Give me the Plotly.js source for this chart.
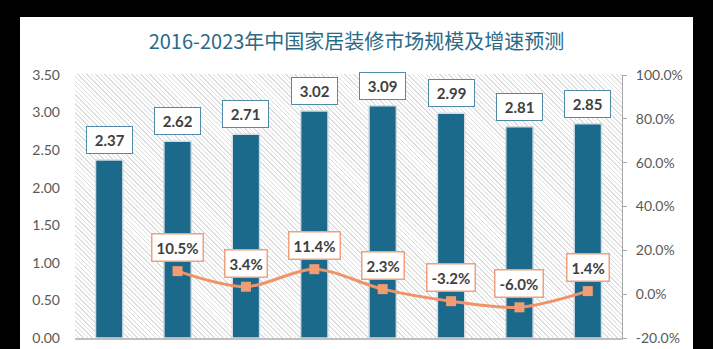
<!DOCTYPE html>
<html>
<head>
<meta charset="utf-8">
<script src="https://cdn.plot.ly/plotly-3.0.1.min.js"></script>
<style>
  html, body { margin:0; padding:0; background:#000; width:713px; height:349px; overflow:hidden; }
  #frame { position:absolute; left:20px; top:17px; width:673px; height:340px; background:#fff; }
  #hatch { position:absolute; left:75px; top:74px; width:547px; height:264px;
    background: repeating-linear-gradient(45deg, #ffffff 0px, #ffffff 2.2px, #dedede 2.2px, #dedede 3.2px); }
  #chart { position:absolute; left:0; top:0; width:713px; height:349px; }
</style>
</head>
<body>
<div id="frame"></div>
<div id="hatch"></div>
<div id="chart"></div>
<script>
// Data
const years = [2016, 2017, 2018, 2019, 2020, 2021, 2022, 2023];
const marketSize = [2.37, 2.62, 2.71, 3.02, 3.09, 2.99, 2.81, 2.85];
const growthYears = [2017, 2018, 2019, 2020, 2021, 2022, 2023];
const growthRate = [10.5, 3.4, 11.4, 2.3, -3.2, -6.0, 1.4];
const leftTicks = [0, 0.5, 1, 1.5, 2, 2.5, 3, 3.5];
const rightTicks = [-20, 0, 20, 40, 60, 80, 100];
const titleText = '2016-2023年中国家居装修市场规模及增速预测';

const barColor = '#1b6a8c';
const lineColor = '#ef9468';
const tickFont = {family: 'Lato, "Liberation Sans", sans-serif', size: 14, color: '#595959'};
const labelFont = {family: 'Lato, "Liberation Sans", sans-serif', size: 15, color: '#404040'};

const traces = [
  {
    type: 'bar', x: years, y: marketSize, width: 0.4,
    marker: {color: barColor, line: {color: '#d5dde2', width: 1.5}},
    hoverinfo: 'skip'
  },
  {
    type: 'scatter', mode: 'lines+markers', x: growthYears, y: growthRate, yaxis: 'y2',
    line: {color: lineColor, width: 3, shape: 'spline', smoothing: 0.9},
    marker: {symbol: 'square', size: 10, color: '#f29c74'},
    hoverinfo: 'skip'
  }
];

const annotations = [];
marketSize.forEach((v, i) => {
  annotations.push({
    x: years[i], y: v, xref: 'x', yref: 'y', yanchor: 'bottom', yshift: 6,
    text: '&nbsp;<b>' + v.toFixed(2) + '</b>&nbsp;', showarrow: false,
    bgcolor: '#ffffff', bordercolor: '#4f8aa6', borderwidth: 1, borderpad: 4,
    font: labelFont
  });
});
growthRate.forEach((v, i) => {
  annotations.push({
    x: growthYears[i], y: v, xref: 'x', yref: 'y2', yanchor: 'bottom', yshift: 9,
    text: '<b>' + v.toFixed(1) + '%</b>', showarrow: false,
    bgcolor: '#ffffff', bordercolor: '#efa07c', borderwidth: 1.5, borderpad: 4,
    font: labelFont
  });
});

const layout = {
  width: 713, height: 349,
  margin: {l: 75, r: 91, t: 75, b: 11, pad: 0},
  paper_bgcolor: 'rgba(0,0,0,0)', plot_bgcolor: 'rgba(0,0,0,0)',
  showlegend: false,
  title: {
    text: titleText, x: 0.5, xref: 'container', y: 1 - 42/349, yref: 'container',
    xanchor: 'center', yanchor: 'middle',
    font: {family: '"Noto Sans CJK SC", sans-serif', size: 20, color: '#2a6a88'}
  },
  xaxis: {
    type: 'linear', range: [2015.5, 2023.5], tickvals: years,
    showticklabels: false, showgrid: false, zeroline: false,
    showline: true, linecolor: '#bfbfbf', linewidth: 1.5, ticks: ''
  },
  yaxis: {
    type: 'linear', range: [0, 3.5], tickvals: leftTicks,
    ticktext: leftTicks.map(v => v.toFixed(2)),
    showgrid: false, zeroline: false, showline: false, ticks: '',
    ticklabelstandoff: 14, tickfont: tickFont
  },
  yaxis2: {
    type: 'linear', overlaying: 'y', side: 'right', range: [-20, 100], tickvals: rightTicks,
    ticktext: rightTicks.map(v => v.toFixed(1) + '%'),
    showgrid: false, zeroline: false, showline: true, linecolor: '#a6a6a6', linewidth: 1,
    ticks: 'outside', ticklen: 4, tickcolor: '#a6a6a6', ticklabelstandoff: 6, tickfont: tickFont
  },
  annotations: annotations
};

Plotly.newPlot('chart', traces, layout, {displayModeBar: false, staticPlot: true});
</script>
</body>
</html>
